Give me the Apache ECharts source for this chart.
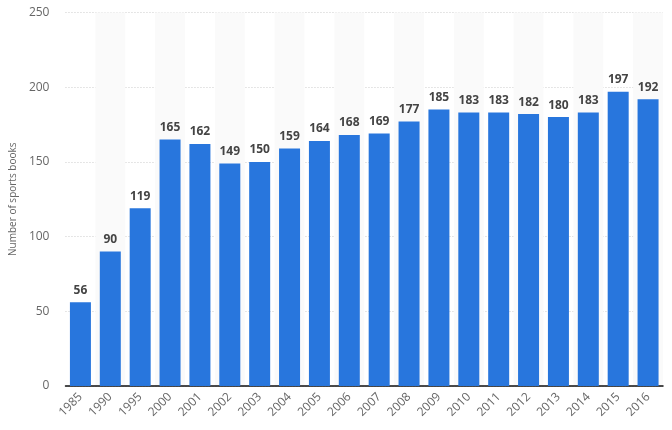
<!DOCTYPE html>
<html>
<head>
<meta charset="utf-8">
<script src="https://cdn.jsdelivr.net/npm/echarts@6/dist/echarts.min.js"></script>
<style>html,body{margin:0;padding:0;background:#fff}#c{width:672px;height:430px}</style>
</head>
<body>
<div id="c"></div>
<script>
const years = ['1985','1990','1995','2000','2001','2002','2003','2004','2005','2006','2007','2008','2009','2010','2011','2012','2013','2014','2015','2016'];
const sportsBooks = [56,90,119,165,162,149,150,159,164,168,169,177,185,183,183,182,180,183,197,192];
const yTicks = {min:0, max:250, interval:50};
const yTitle = 'Number of sports books';

const chart = echarts.init(document.getElementById('c'), null, {renderer:'canvas'});
chart.setOption({
  animation:false,
  backgroundColor:'#fff',
  grid:{left:63, right:9, top:12.5, bottom:44, containLabel:false},
  xAxis:{
    type:'category',
    data:years,
    axisLine:{lineStyle:{color:'#111', width:1.5}},
    axisTick:{show:false},
    axisLabel:{rotate:45, color:'#666', fontSize:12, fontFamily:'Open Sans', margin:9},
    splitArea:{show:true, areaStyle:{color:['rgba(255,255,255,0)','#fafafa']}},
    splitLine:{show:false}
  },
  yAxis:{
    type:'value',
    min:yTicks.min, max:yTicks.max, interval:yTicks.interval,
    name:yTitle,
    nameLocation:'middle',
    nameGap:46,
    nameTextStyle:{color:'#666', fontSize:10, fontFamily:'Open Sans'},
    axisLine:{show:false},
    axisTick:{show:false},
    axisLabel:{color:'#666', fontSize:12, fontFamily:'Open Sans', margin:16},
    splitLine:{lineStyle:{color:'#ccc', type:[1,2], width:1}}
  },
  series:[{
    type:'bar',
    data:sportsBooks,
    barWidth:21,
    itemStyle:{color:'#2876dd'},
    label:{show:true, position:'top', distance:6, color:'#444', fontWeight:'bold', fontSize:12, fontFamily:'Open Sans'}
  }]
});
</script>
</body>
</html>
